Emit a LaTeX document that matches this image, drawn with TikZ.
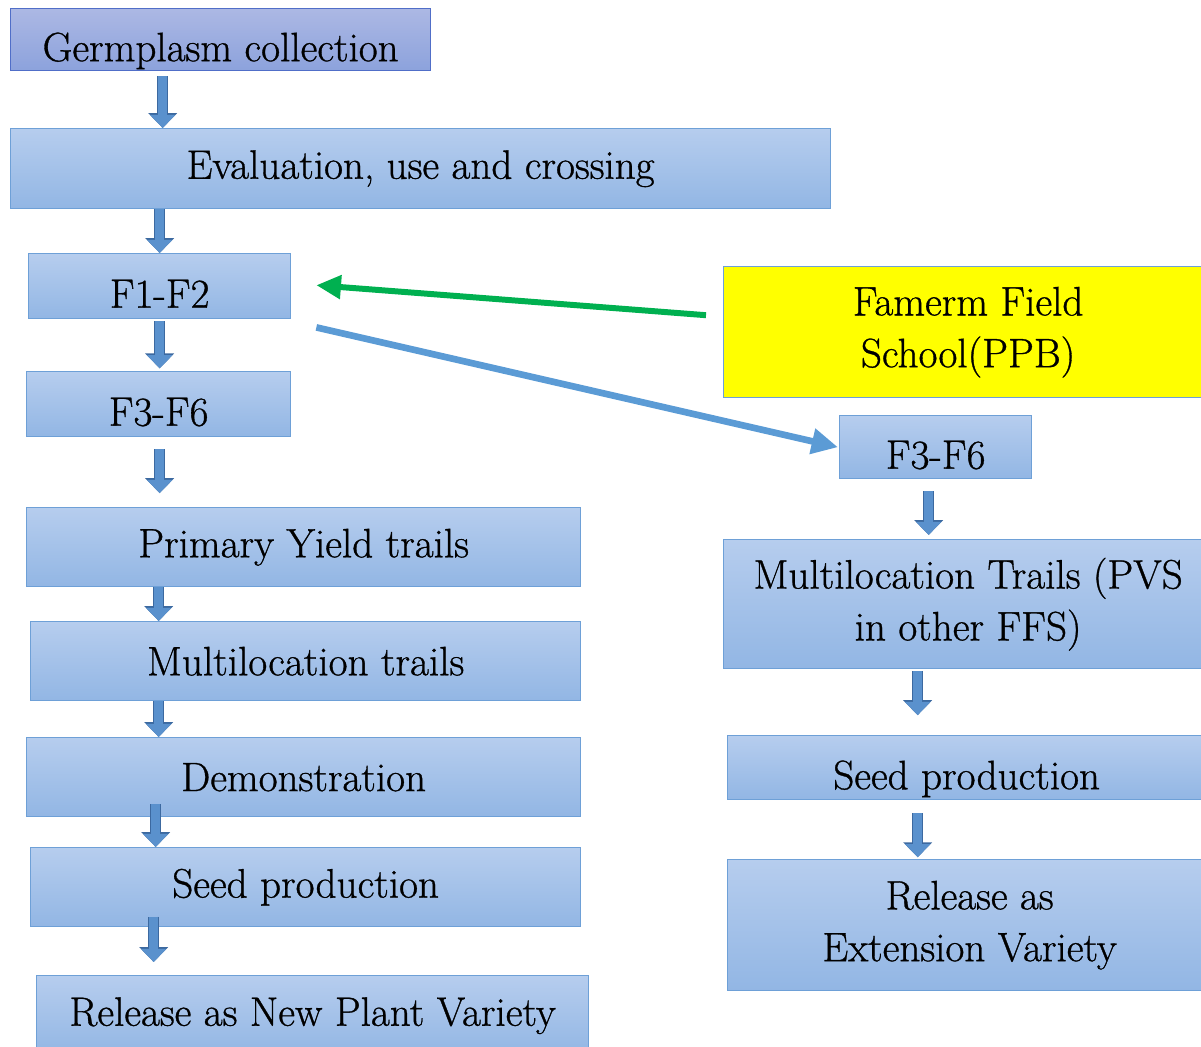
\documentclass[tikz,border=0pt]{standalone}
\usepackage{fontspec}
\setmainfont{Latin Modern Roman}[FakeBold=0.8]
\usetikzlibrary{arrows.meta,calc}

\definecolor{boxtop}{RGB}{182,205,238}
\definecolor{boxbot}{RGB}{146,182,228}
\definecolor{boxline}{RGB}{110,160,215}
\definecolor{germtop}{RGB}{172,184,228}
\definecolor{germbot}{RGB}{140,162,220}
\definecolor{germline}{RGB}{80,110,200}
\definecolor{arrfill}{RGB}{90,145,205}
\definecolor{arrline}{RGB}{60,105,160}
\definecolor{slantblue}{RGB}{91,155,213}
\definecolor{slantgreen}{RGB}{0,176,80}
\definecolor{ffsyellow}{RGB}{255,255,0}

\tikzset{
  stagebox/.style={rectangle, anchor=north west, draw=boxline, line width=0.8pt,
    top color=boxtop, bottom color=boxbot, align=center, inner sep=2pt,
    font=\fontsize{23.4}{29.5}\selectfont},
  lowtext/.style={text height=25pt, text depth=0.5pt},
  germbox/.style={stagebox, draw=germline, top color=germtop, bottom color=germbot},
  ffsbox/.style={stagebox, fill=ffsyellow, top color=ffsyellow, bottom color=ffsyellow},
  downarrow/.style={draw=arrfill, line width=4.8pt, -{Triangle[width=14pt,length=7.5pt]},
    preaction={draw=arrline, line width=6pt, -{Triangle[width=16pt,length=8.5pt]}}},
  greenarrow/.style={draw=slantgreen, line width=3.4pt, -{Triangle[width=13pt,length=14pt]}},
  bluearrow/.style={draw=slantblue, line width=3.8pt, -{Triangle[width=14pt,length=15pt]}}
}

\begin{document}
\begin{tikzpicture}[x=0.02cm,y=-0.02cm]
\useasboundingbox (0,0) rectangle (1201,1046);

% left column
\node[germbox, lowtext, minimum width=8.4cm, minimum height=1.24cm] (germ) at (10,8) {Germplasm collection};
\node[stagebox, minimum width=16.4cm, minimum height=1.6cm] (eval) at (10,128) {Evaluation, use and crossing};
\node[stagebox, lowtext, minimum width=5.24cm, minimum height=1.3cm] (f12) at (28,253) {F1-F2};
\node[stagebox, lowtext, minimum width=5.28cm, minimum height=1.3cm] (f36) at (26,371) {F3-F6};
\node[stagebox, minimum width=11.08cm, minimum height=1.58cm] (pyt) at (26,507) {Primary Yield trails};
\node[stagebox, minimum width=11cm, minimum height=1.58cm] (mlt) at (30,621) {Multilocation trails};
\node[stagebox, minimum width=11.08cm, minimum height=1.58cm] (demo) at (26,737) {Demonstration};
\node[stagebox, minimum width=11cm, minimum height=1.58cm] (seed) at (30,847) {Seed production};
\node[stagebox, minimum width=11.04cm, minimum height=1.6cm] (rel) at (36,975) {Release as New Plant Variety};

% right column
\node[ffsbox, minimum width=9.78cm, minimum height=2.62cm] (ffs) at (723,266) {Famerm Field\\School(PPB)};
\node[stagebox, lowtext, minimum width=3.84cm, minimum height=1.26cm] (rf36) at (839,415) {F3-F6};
\node[stagebox, minimum width=9.78cm, minimum height=2.58cm] (rmlt) at (723,539) {Multilocation Trails (PVS\\in other FFS)};
\node[stagebox, lowtext, minimum width=9.56cm, minimum height=1.28cm] (rseed) at (727,735) {Seed production};
\node[stagebox, minimum width=9.68cm, minimum height=2.62cm] (rrel) at (727,859) {Release as\\Extension Variety};

% down arrows, left
\draw[downarrow, shorten <=2.8pt] ($(germ.south -| f12)+(3,0)$) -- ($(eval.north -| f12)+(3,0)$);
\draw[downarrow] (eval.south -| f12) -- (f12.north);
\draw[downarrow, shorten <=1pt, shorten >=1.5pt] (f12.south) -- (f36.north -| f12);
\draw[downarrow, shorten <=6.8pt, shorten >=7.9pt] (f36.south -| f12) -- (pyt.north -| f12);
\draw[downarrow] ($(pyt.south -| f12)+(-1,0)$) -- ($(mlt.north -| f12)+(-1,0)$);
\draw[downarrow] ($(mlt.south -| f12)+(-1,0)$) -- ($(demo.north -| f12)+(-1,0)$);
\draw[downarrow, shorten <=-7.4pt] ($(demo.south -| f12)+(-4,0)$) -- ($(seed.north -| f12)+(-4,0)$);
\draw[downarrow, shorten <=-6.2pt, shorten >=7.4pt] ($(seed.south -| f12)+(-6,0)$) -- ($(rel.north -| f12)+(-6,0)$);

% down arrows, right
\draw[downarrow, shorten <=6.8pt, shorten >=2.3pt] ($(rf36.south)+(-7,0)$) -- ($(rmlt.north -| rf36)+(-7,0)$);
\draw[downarrow, shorten <=1pt, shorten >=11.3pt] ($(rmlt.south -| rf36)+(-18,0)$) -- ($(rseed.north -| rf36)+(-18,0)$);
\draw[downarrow, shorten <=7.4pt, shorten >=1pt] ($(rseed.south -| rf36)+(-18,0)$) -- ($(rrel.north -| rf36)+(-18,0)$);

% farmer field school links
\draw[greenarrow] ($(ffs.west)+(-17,-17)$) -- ($(f12.east)+(25,-1)$);
\draw[bluearrow] ($(f12.south east)+(25,8)$) -- ($(rf36.west)+(-1,0)$);
\end{tikzpicture}
\end{document}
